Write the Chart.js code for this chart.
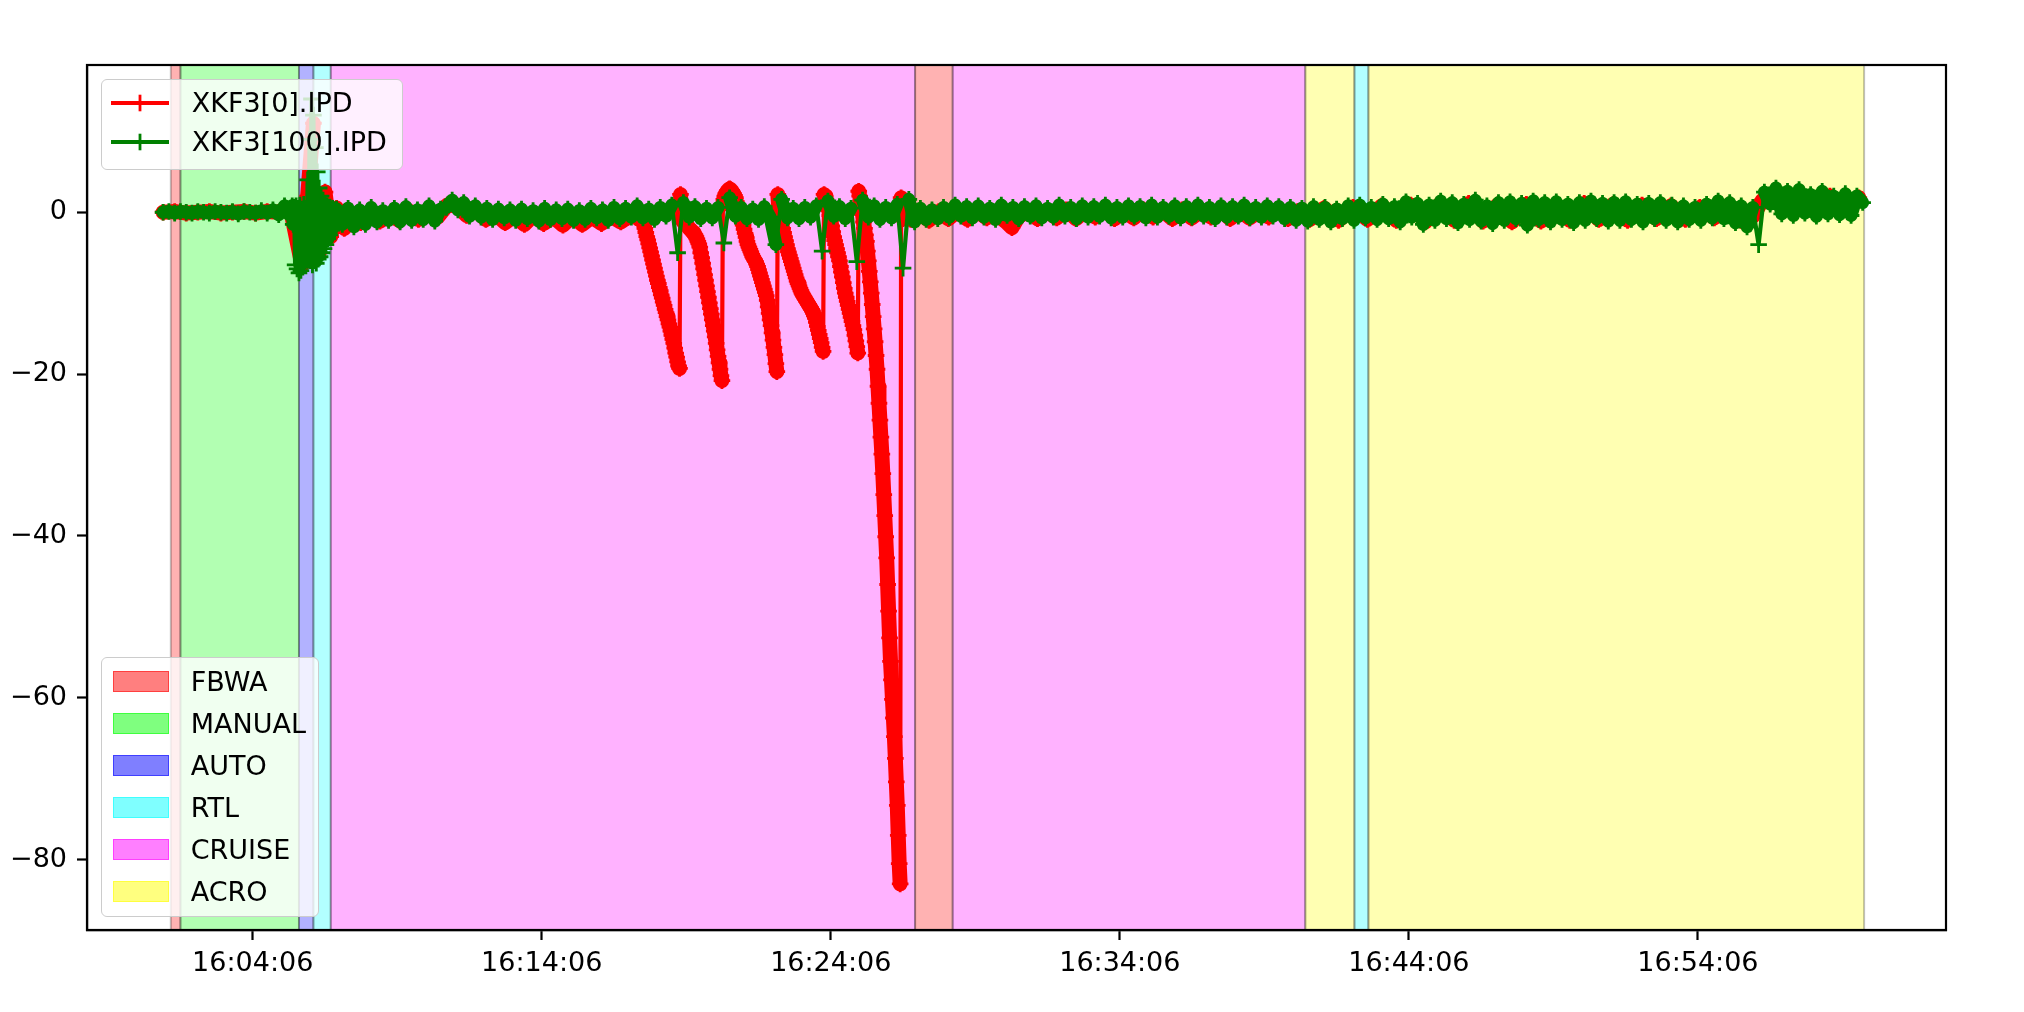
<!DOCTYPE html>
<html>
<head>
<meta charset="utf-8">
<script src="https://cdn.jsdelivr.net/npm/chart.js@4.4.1/dist/chart.umd.min.js"></script>
<style>
  html, body { margin: 0; padding: 0; background: #ffffff; }
  #wrap { position: relative; width: 2024px; height: 1012px; overflow: hidden; }
  #c { position: absolute; left: 0; top: 0; }
  .leg { position: absolute; background: rgba(255,255,255,0.8); border: 1.5px solid #cccccc; border-radius: 6px; box-sizing: border-box; font-family: "DejaVu Sans", sans-serif; font-size: 27px; color: #000; }
  .row { position: absolute; left: 0; height: 30px; line-height: 30px; white-space: nowrap; }
  .row svg { position: absolute; top: 0; }
  .row span { position: absolute; top: 0; }
</style>
</head>
<body>
<div id="wrap">
  <canvas id="c" width="2024" height="1012"></canvas>
  <div id="legTop" class="leg"></div>
  <div id="legBottom" class="leg"></div>
</div>
<script>
// ---------- tick labels ----------
const xTickLabels = ["16:04:06", "16:14:06", "16:24:06", "16:34:06", "16:44:06", "16:54:06"];
const yTickValues = [0, -20, -40, -60, -80];
const yTickLabels = ["0", "\u221220", "\u221240", "\u221260", "\u221280"];

// time axis: seconds after 16:00:00
const xMin = -98, xMax = 3761;
const yMin = -88.7, yMax = 18.2;

// ---------- series ----------
const seriesNames = ["XKF3[0].IPD", "XKF3[100].IPD"];
const seriesColors = ["#ff0000", "#008000"];

// XKF3[100].IPD before the mode-change transient, every 12 s from t = 60 s
const greenEarlyStart = 60, greenStep = 12;
const greenEarlyValues = [
  0, 0.1, -0.1, 0.1, 0, -0.1, 0.1, 0, -0.1, 0.1,
  0, -0.1, 0.1, -0.2, 0.1, 0, -0.1, 0.2, -0.1, 0.3,
  -0.3, 0.8
];
// XKF3[100].IPD transient at AUTO/RTL, every 2 s from t = 320 s
const greenBurstStart = 320, greenBurstStep = 2;
const greenBurstValues = [
  0.2, -0.3, 0.5, -0.4, 0.8, -1.5, 0.6, -6.5, 0.8, -7.0,
  0.5, -7.5, 0.9, -7.2, 0.4, -6.8, 1.0, -6.0, 0.5, -5.5,
  4.0, -5.0, 9.0, -6.0, 14.0, -6.5, 12.0, -6.0, 8.0, -6.3,
  5.0, -5.8, 3.0, -5.5, 2.0, -5.0, 1.5, -4.5, 1.0, -4.0,
  0.8, -3.3, 0.5, -2.8, 0.3, -2.2, 0.5, -1.8, 0.3, -1.5,
  0.4
];
// XKF3[100].IPD after the transient, every 12 s from t = 432 s
const greenLateStart = 432;
const greenLateValues = [
  -1.5, 0.5, -1.8, 0.3, -1.5, 0.6, -1.2, 0.2, -1.0,
  0.5, -1.2, 0.7, -1.0, 0.3, -0.9, 0.8, -1.1, 0.4, 0.6,
  1.5, 0.3, 1.2, -0.5, 0.8, -0.6, 0.5, -0.9, 0.4, -0.7,
  0.3, -1.0, 0.4, -0.8, 0.2, -1.1, 0.5, -0.9, 0.3, -0.8,
  0.4, -1.0, 0.2, -0.9, 0.5, -0.7, 0.3, -1.0, 0.6, -0.8,
  0.5, -0.6, 0.8, -0.7, 0.4, -0.9, 0.6, -0.5, 0.9, -5.0,
  1.2, -0.6, 0.7, -0.8, 0.5, -0.7, 0.6, -3.8, 1.8, -0.5,
  0.6, -0.8, 0.4, -0.9, 0.7, -0.6, -4.0, 1.6, -0.7, 0.5,
  -0.8, 0.6, -0.6, 0.8, -4.8, 1.4, -0.5, 0.7, -0.8, 0.5,
  -6.1, 1.5, -0.6, 0.8, -0.9, 0.6, -0.7, 1.0, -6.9, 1.6,
  -1.2, 0.5, -0.9, 0.3, -0.8, 0.6, -0.6, 0.9, -0.5, 0.7,
  -0.7, 0.8, -0.6, 0.5, -0.9, 0.9, -0.4, 0.6, -0.8, 0.7,
  -0.5, 0.8, -0.7, 0.5, -0.6, 0.9, -0.5, 0.6, -0.8, 0.8,
  -0.6, 0.7, -0.5, 0.9, -0.7, 0.6, -0.6, 0.8, -0.5, 0.7,
  -0.7, 0.9, -0.6, 0.6, -0.5, 0.8, -0.7, 0.7, -0.6, 0.9,
  -0.5, 0.6, -0.8, 0.8, -0.6, 0.7, -0.5, 0.9, -0.7, 0.6,
  -0.6, 0.8, -0.5, 0.7, -0.8, 0.6, -1.0, 0.5, -1.1, 0.7,
  -0.9, 0.6, -1.2, 0.4, -0.8, 0.8, -1.0, 0.9, -0.7, 0.6,
  -0.9, 1.0, -0.8, 0.7, -1.2, 1.3, -0.6, 1.1, -1.5, 0.9,
  -1.0, 1.4, -0.8, 1.2, -1.3, 1.0, -0.9, 1.5, -1.1, 0.8,
  -1.4, 1.2, -1.0, 1.3, -0.8, 1.1, -1.6, 1.4, -0.9, 1.2,
  -1.2, 1.3, -0.9, 1.0, -1.3, 1.2, -1.0, 1.4, -0.8, 1.1,
  -1.1, 1.2, -1.0, 1.3, -0.9, 1.0, -1.2, 1.1, -0.8, 1.2,
  -1.0, 0.9, -1.2, 0.8, -0.9, 0.6, -1.0, 1.0, -0.7, 1.4,
  -0.8, 1.2, -1.3, 0.8, -1.8, 0.6, -4.0, 2.5, 1.0, 3.0,
  -0.2, 2.6, -0.4, 2.8, -0.1, 2.2, -0.5, 2.6, -0.2, 2.0,
  -0.3, 2.3, -0.4, 2.0, 1.2
];

// XKF3[0].IPD outside the dip episode (time, value)
const redTimes = [
  60, 84, 108, 132, 156, 180, 204, 228, 252, 276,
  300, 324, 348, 360, 372, 384, 396, 408, 420, 436,
  452, 470, 490, 510, 530, 550, 570, 590, 610, 630,
  650, 670, 690, 710, 730, 750, 770, 790, 810, 830,
  850, 870, 890, 910, 930, 950, 970, 990, 1010, 1025,
  1612, 1630, 1650, 1670, 1690, 1710, 1730, 1750, 1770, 1790,
  1810, 1822, 1835, 1855, 1875, 1895, 1915, 1935, 1955, 1975,
  1995, 2015, 2035, 2055, 2075, 2095, 2115, 2135, 2155, 2175,
  2195, 2215, 2235, 2255, 2275, 2295, 2315, 2335, 2355, 2375,
  2395, 2415, 2440, 2470, 2500, 2530, 2560, 2590, 2620, 2650,
  2680, 2710, 2740, 2770, 2800, 2830, 2860, 2890, 2920, 2950,
  2980, 3010, 3040, 3070, 3100, 3130, 3160, 3190, 3220, 3250,
  3280, 3310, 3340, 3360, 3380, 3400, 3430, 3460, 3490, 3520,
  3550, 3580
];
const redValues = [
  0, 0.1, -0.1, 0, 0.1, -0.1, 0, 0.1, -0.1, 0.1,
  0, 0.5, -6.5, 2, 11, -5, 2.5, -3, 0.5, -2,
  -0.5, -1.3, -0.2, -1.1, -0.3, -1.0, 0.2, -0.9, 0.3, -0.6,
  0.9, 0.8, -0.4, 0.2, -0.9, -0.2, -1.3, -0.4, -1.5, -0.3,
  -1.4, -0.6, -1.6, -0.5, -1.5, -0.6, -1.4, -0.5, -1.2, -0.6,
  -0.9, -0.2, -1.0, 0.1, -0.8, 0.2, -0.9, 0.1, -0.7, -0.2,
  -1.2, -1.9, -0.6, 0.2, -0.8, 0.1, -0.7, 0.3, -0.8, 0.2,
  -0.6, 0.3, -0.8, 0.1, -0.7, 0.3, -0.6, 0.2, -0.8, 0.3,
  -0.7, 0.2, -0.6, 0.3, -0.8, 0.2, -0.7, 0.1, -0.6, 0.3,
  -0.8, 0.1, -0.9, 0.5, -1.0, 0.6, -0.9, 0.8, -1.0, 0.9,
  -1.2, 1.0, -1.0, 1.1, -1.1, 0.9, -1.2, 1.0, -1.1, 0.9,
  -1.0, 1.1, -0.9, 1.0, -1.0, 0.9, -0.8, 0.8, -0.9, 0.6,
  -0.7, 0.9, -1.2, -0.5, 1.5, 2.2, 0.8, 2.0, 0.7, 2.0,
  0.6, 1.8
];

// XKF3[0].IPD during the dip episode, every 2 s from t = 1040 s
const redDipStart = 1040, redDipStep = 2;
const redDipValues = [
  -0.4, -0.6, -0.5, -0.8, -0.7, -0.9, -1.0, -1.1, -1.3,
  -1.5, -2.0, -2.5, -3.0, -3.4, -3.9, -4.4, -4.9, -5.4, -5.9,
  -6.4, -6.9, -7.4, -7.9, -8.4, -8.8, -9.3, -9.7, -10.2, -10.6,
  -11.1, -11.5, -12.0, -12.4, -12.9, -13.3, -13.8, -14.2, -14.7, -15.2,
  -15.7, -16.2, -16.8, -17.4, -17.9, -18.5, -19.0, -19.3,
  2.2,
  -0.6, -1.0, -1.2, -1.3, -1.5, -1.6, -1.7, -1.8, -2.0, -2.1,
  -2.2, -2.4, -2.5, -2.7, -2.8, -3.0, -3.3, -3.6, -3.9, -4.3,
  -5.0, -5.6, -6.3, -7.0, -7.7, -8.4, -9.1, -9.8, -10.5, -11.2,
  -11.9, -12.6, -13.3, -14.0, -14.7, -15.4, -16.2, -17.0, -17.8, -18.6,
  -19.4, -20.2, -20.8,
  1.0,
  1.6, 2.0, 2.3, 2.5, 2.7, 2.8, 2.9, 2.8, 2.7, 2.5,
  2.3, 2.1, 1.8, 1.3, 0.8, 0.4, 0.0, -0.4, -0.8, -1.2,
  -1.6, -2.1, -2.6, -3.1, -3.6, -4.0, -4.3, -4.6, -4.9, -5.2,
  -5.5, -5.7, -5.9, -6.1, -6.4, -6.7, -7.1, -7.5, -7.9, -8.3,
  -8.7, -9.1, -9.5, -9.9, -10.3, -10.9, -11.7, -12.5, -13.3, -14.0,
  -14.9, -15.8, -16.7, -17.6, -18.7, -19.7,
  2.2,
  0.5, -0.1, -0.8, -1.4, -2.0, -2.5, -3.0, -3.5, -4.0, -4.5,
  -4.9, -5.3, -5.7, -6.1, -6.5, -6.9, -7.3, -7.7, -8.1, -8.5,
  -8.8, -9.1, -9.4, -9.7, -10.0, -10.2, -10.4, -10.6, -10.8, -11.0,
  -11.2, -11.4, -11.6, -11.8, -12.0, -12.2, -12.5, -12.8, -13.1, -13.6,
  -14.1, -14.6, -15.1, -15.6, -16.1, -16.7, -17.2,
  2.2,
  2.0, 1.6, 1.2, 0.8, 0.2, -0.4, -1.0, -1.7, -2.4, -3.0,
  -3.5, -4.0, -4.5, -5.0, -5.5, -6.0, -6.7, -7.4, -8.0, -8.7,
  -9.4, -10.0, -10.5, -11.0, -11.5, -12.0, -12.5, -13.0, -13.5, -14.0,
  -14.5, -15.2, -15.9, -16.6, -17.4,
  2.6,
  2.0, 1.4, 0.6, -0.3, -1.2, -2.0, -2.8, -3.6, -4.8, -6.0,
  -7.3, -8.6, -10.0, -11.4, -12.9, -14.4, -16.0, -17.7, -19.4, -21.5,
  -23.6, -25.7, -27.8, -29.9, -32.3, -34.9, -37.5, -40.1, -42.7, -46.0,
  -49.3, -52.6, -55.5, -57.8, -60.2, -62.5, -64.8, -67.5, -70.4, -73.3,
  -77.0, -80.5, -83.0,
  1.8,
  -0.3, -0.8, -0.4, -0.6
];

// ---------- flight modes ----------
const modeNames = ["FBWA", "MANUAL", "AUTO", "RTL", "CRUISE", "ACRO"];
const modeRGB = ["255,0,0", "0,255,0", "0,0,255", "0,255,255", "255,0,255", "255,255,0"];
const bandModes = ["FBWA", "MANUAL", "AUTO", "RTL", "CRUISE", "FBWA", "CRUISE", "ACRO", "RTL", "ACRO"];
const bandStarts = [76, 96, 342, 372, 408, 1621, 1699, 2431, 2533, 2562];
const bandEnds = [96, 342, 372, 408, 1621, 1699, 2431, 2533, 2562, 3591];

// ---------- build datasets ----------
function tickSeconds(lbl) {
  const p = lbl.split(":").map(Number);
  return p[0] * 3600 + p[1] * 60 + p[2] - 16 * 3600;
}
const xTickValues = xTickLabels.map(tickSeconds);

const greenData = [];
greenEarlyValues.forEach((v, i) => greenData.push({ x: greenEarlyStart + i * greenStep, y: v }));
greenBurstValues.forEach((v, i) => greenData.push({ x: greenBurstStart + i * greenBurstStep, y: v }));
greenLateValues.forEach((v, i) => greenData.push({ x: greenLateStart + i * greenStep, y: v }));

const redData = [];
redTimes.forEach((t, i) => redData.push({ x: t, y: redValues[i] }));
redDipValues.forEach((v, k) => redData.push({ x: redDipStart + k * redDipStep, y: v }));
redData.sort((a, b) => a.x - b.x);

const FONT = "'DejaVu Sans', sans-serif";

const bandPlugin = {
  id: "bands",
  beforeDatasetsDraw(chart) {
    const { ctx, chartArea: a, scales: { x } } = chart;
    ctx.save();
    ctx.beginPath();
    ctx.rect(a.left, a.top, a.right - a.left, a.bottom - a.top);
    ctx.clip();
    bandModes.forEach((m, i) => {
      const rgb = modeRGB[modeNames.indexOf(m)];
      const x0 = x.getPixelForValue(bandStarts[i]);
      const x1 = x.getPixelForValue(bandEnds[i]);
      ctx.fillStyle = "rgba(" + rgb + ",0.3)";
      ctx.fillRect(x0, a.top, x1 - x0, a.bottom - a.top);
      ctx.strokeStyle = "rgba(0,0,0,0.25)";
      ctx.lineWidth = 2;
      ctx.beginPath();
      ctx.moveTo(x0, a.top); ctx.lineTo(x0, a.bottom);
      ctx.moveTo(x1, a.top); ctx.lineTo(x1, a.bottom);
      ctx.stroke();
    });
    ctx.restore();
  },
  afterDatasetsDraw(chart) {
    const { ctx, chartArea: a } = chart;
    ctx.save();
    ctx.strokeStyle = "#000000";
    ctx.lineWidth = 2.2;
    ctx.strokeRect(a.left, a.top, a.right - a.left, a.bottom - a.top);
    ctx.restore();
  }
};

// dense samples in the original log make the trace a solid ribbon;
// single-sample jumps stay a thin line
const lineStyle = (color, wide, jump) => ({
  borderColor: color,
  backgroundColor: color,
  borderWidth: wide,
  borderJoinStyle: "round",
  borderCapStyle: "round",
  segment: {
    borderWidth: (c) => Math.abs(c.p1.parsed.y - c.p0.parsed.y) > jump ? 4.2 : wide
  },
  pointStyle: "cross",
  pointRadius: 8.3,
  pointBorderWidth: 2.8,
  pointBorderColor: color,
  pointBackgroundColor: color,
  pointHoverRadius: 8.3,
  tension: 0,
  fill: false
});

const chart = new Chart(document.getElementById("c"), {
  type: "line",
  data: {
    datasets: [
      Object.assign({ label: seriesNames[0], data: redData, order: 2 }, lineStyle(seriesColors[0], 15, 10)),
      Object.assign({ label: seriesNames[1], data: greenData, order: 1 }, lineStyle(seriesColors[1], 13, 4.2))
    ]
  },
  options: {
    responsive: false,
    animation: false,
    parsing: false,
    normalized: true,
    events: [],
    layout: { padding: { top: 65, right: 78, left: 0, bottom: 0 } },
    plugins: { legend: { display: false }, tooltip: { enabled: false } },
    scales: {
      x: {
        type: "linear",
        min: xMin, max: xMax,
        afterBuildTicks(scale) { scale.ticks = xTickValues.map(v => ({ value: v })); },
        afterFit(scale) { scale.height = 82; },
        ticks: {
          autoSkip: false, maxRotation: 0, padding: 8,
          color: "#000", font: { family: FONT, size: 27 },
          callback(v) { return xTickLabels[xTickValues.indexOf(v)]; }
        },
        grid: { display: true, drawOnChartArea: false, drawTicks: true, tickLength: 10, tickWidth: 2.2, tickColor: "#000" },
        border: { display: true, color: "#000", width: 2.2 }
      },
      y: {
        type: "linear",
        min: yMin, max: yMax,
        afterBuildTicks(scale) { scale.ticks = yTickValues.map(v => ({ value: v })); },
        afterFit(scale) { scale.width = 87; },
        ticks: {
          autoSkip: false, padding: 10,
          color: "#000", font: { family: FONT, size: 27 },
          callback(v) { return yTickLabels[yTickValues.indexOf(v)]; }
        },
        grid: { display: true, drawOnChartArea: false, drawTicks: true, tickLength: 10, tickWidth: 2.2, tickColor: "#000" },
        border: { display: true, color: "#000", width: 2.2 }
      }
    }
  },
  plugins: [bandPlugin]
});

// ---------- legends (HTML overlays) ----------
const area = chart.chartArea;
const svgNS = "http://www.w3.org/2000/svg";

const legTop = document.getElementById("legTop");
legTop.style.left = (area.left + 13.7) + "px";
legTop.style.top = (area.top + 14.3) + "px";
legTop.style.width = "302px";
legTop.style.height = "91px";
seriesNames.forEach((name, i) => {
  const row = document.createElement("div");
  row.className = "row";
  row.style.top = (22.4 + i * 39.3 - 15) + "px";
  row.style.width = "300px";
  const svg = document.createElementNS(svgNS, "svg");
  svg.setAttribute("width", "60"); svg.setAttribute("height", "30");
  svg.style.left = "9px";
  const c = seriesColors[i];
  svg.innerHTML = '<line x1="0" y1="15" x2="58" y2="15" stroke="' + c + '" stroke-width="4.2"/>' +
    '<line x1="20.7" y1="15" x2="37.3" y2="15" stroke="' + c + '" stroke-width="2.8"/>' +
    '<line x1="29" y1="6.7" x2="29" y2="23.3" stroke="' + c + '" stroke-width="2.8"/>';
  row.appendChild(svg);
  const sp = document.createElement("span");
  sp.style.left = "90px";
  sp.textContent = name;
  row.appendChild(sp);
  legTop.appendChild(row);
});

const legBottom = document.getElementById("legBottom");
legBottom.style.left = (area.left + 13.7) + "px";
legBottom.style.top = (area.bottom - 13.3 - 260) + "px";
legBottom.style.width = "218px";
legBottom.style.height = "260px";
modeNames.forEach((name, i) => {
  const row = document.createElement("div");
  row.className = "row";
  row.style.top = (24 + i * 42 - 15) + "px";
  row.style.width = "216px";
  const sw = document.createElement("div");
  sw.style.position = "absolute";
  sw.style.left = "11px";
  sw.style.top = "4px";
  sw.style.width = "56px";
  sw.style.height = "21px";
  sw.style.boxSizing = "border-box";
  sw.style.background = "rgba(" + modeRGB[i] + ",0.5)";
  sw.style.border = "1.5px solid rgba(" + modeRGB[i] + ",0.5)";
  row.appendChild(sw);
  const sp = document.createElement("span");
  sp.style.left = "89px";
  sp.textContent = name;
  row.appendChild(sp);
  legBottom.appendChild(row);
});
</script>
</body>
</html>
